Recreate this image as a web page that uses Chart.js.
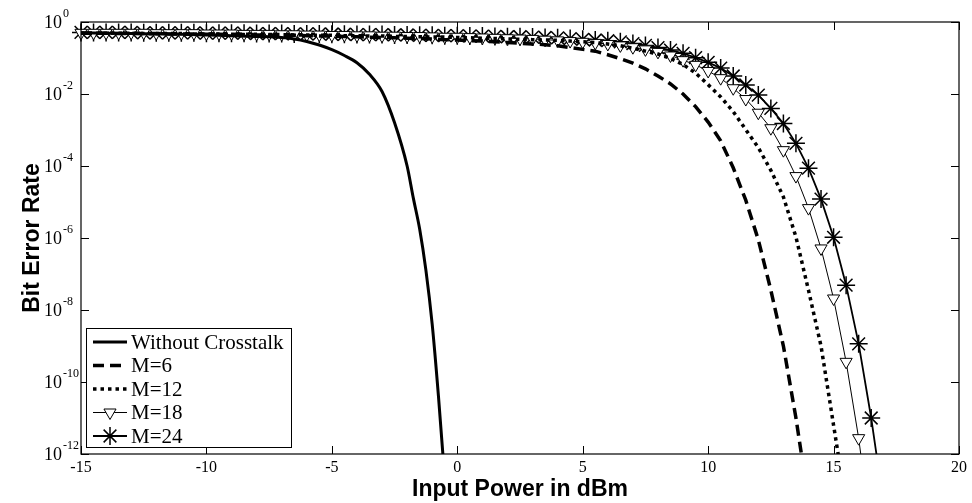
<!DOCTYPE html>
<html>
<head>
<meta charset="utf-8">
<script src="https://cdn.jsdelivr.net/npm/chart.js@4.4.1/dist/chart.umd.min.js"></script>
<style>
  body { margin: 0; background: #fff; }
  #wrap { width: 972px; height: 503px; }
</style>
</head>
<body>
<div id="wrap"><canvas id="ber"></canvas></div>
<script>
// input power grid (dBm) used by the M curves
const powerDbm = [-15, -14.5, -14, -13.5, -13, -12.5, -12, -11.5, -11, -10.5, -10, -9.5, -9, -8.5, -8, -7.5,
  -7, -6.5, -6, -5.5, -5, -4.5, -4, -3.5, -3, -2.5, -2, -1.5, -1, -0.5, 0, 0.5, 1, 1.5, 2, 2.5, 3, 3.5,
  4, 4.5, 5, 5.5, 6, 6.5, 7, 7.5, 8, 8.5, 9, 9.5, 10, 10.5, 11, 11.5, 12, 12.5, 13, 13.5, 14, 14.5,
  15, 15.5, 16, 16.5, 17];

// log10(BER)
const logM6 = [-0.31, -0.31, -0.31, -0.32, -0.32, -0.32, -0.32, -0.33, -0.33, -0.33, -0.34, -0.34, -0.35, -0.35, -0.36, -0.36,
  -0.37, -0.37, -0.38, -0.39, -0.39, -0.40, -0.41, -0.42, -0.43, -0.44, -0.45, -0.46, -0.47, -0.49, -0.50, -0.52, -0.53, -0.55, -0.57, -0.59, -0.61, -0.63,
  -0.66, -0.71, -0.76, -0.81, -0.91, -1.02, -1.14, -1.30, -1.50, -1.72, -2.00, -2.35, -2.78, -3.30, -4.05, -4.95, -6.05, -7.45, -9.00, -11.0, -13.3, null,
  null, null, null, null, null];
const logM12 = [-0.31, -0.31, -0.31, -0.31, -0.31, -0.32, -0.32, -0.32, -0.32, -0.33, -0.33, -0.33, -0.34, -0.34, -0.34, -0.35,
  -0.35, -0.36, -0.36, -0.37, -0.37, -0.38, -0.38, -0.39, -0.39, -0.40, -0.40, -0.41, -0.42, -0.42, -0.43, -0.44, -0.45, -0.46, -0.47, -0.48, -0.49, -0.50,
  -0.51, -0.53, -0.55, -0.57, -0.61, -0.66, -0.73, -0.81, -0.89, -1.01, -1.18, -1.42, -1.74, -2.08, -2.49, -2.99, -3.49, -4.12, -4.86, -5.97, -7.45, -9.0,
  -11.2, -13.4, null, null, null];
const logM18 = [-0.30, -0.30, -0.30, -0.30, -0.30, -0.30, -0.31, -0.31, -0.31, -0.31, -0.32, -0.32, -0.32, -0.33, -0.33, -0.33,
  -0.34, -0.34, -0.35, -0.35, -0.36, -0.36, -0.37, -0.37, -0.38, -0.38, -0.39, -0.39, -0.40, -0.41, -0.41, -0.42, -0.43, -0.44, -0.45, -0.46, -0.47, -0.49,
  -0.51, -0.53, -0.55, -0.58, -0.61, -0.65, -0.70, -0.76, -0.83, -0.93, -1.06, -1.19, -1.36, -1.56, -1.84, -2.14, -2.52, -2.95, -3.56, -4.28, -5.17, -6.29,
  -7.68, -9.44, -11.56, -14.2, null];
const logM24 = [-0.29, -0.29, -0.29, -0.29, -0.29, -0.30, -0.30, -0.30, -0.30, -0.30, -0.31, -0.31, -0.31, -0.31, -0.32, -0.32,
  -0.32, -0.33, -0.33, -0.33, -0.34, -0.34, -0.35, -0.35, -0.35, -0.36, -0.36, -0.37, -0.37, -0.38, -0.38, -0.39, -0.39, -0.40, -0.41, -0.41, -0.42, -0.43,
  -0.44, -0.46, -0.48, -0.50, -0.52, -0.55, -0.60, -0.65, -0.71, -0.78, -0.87, -0.99, -1.12, -1.28, -1.50, -1.75, -2.03, -2.40, -2.82, -3.37, -4.06, -4.92,
  -5.98, -7.31, -8.94, -11.0, -13.4];

// the no-crosstalk curve has its own points, denser where it drops
const powerWithout = [-15, -14, -13, -12, -11, -10, -9, -8, -7, -6.5, -6, -5.5, -5, -4.5, -4, -3.5, -3, -2.5, -2,
  -1.75, -1.5, -1.25, -1, -0.75, -0.5];
const logWithout = [-0.30, -0.31, -0.32, -0.33, -0.34, -0.36, -0.38, -0.40, -0.43, -0.47, -0.54, -0.64, -0.77, -0.93, -1.13,
  -1.45, -1.93, -2.8, -4.0, -4.9, -5.75, -6.9, -8.4, -10.4, -12.7];

const seriesNames = ['Without Crosstalk', 'M=6', 'M=12', 'M=18', 'M=24'];
const xTicks = [-15, -10, -5, 0, 5, 10, 15, 20];
const xTickLabels = ['-15', '-10', '-5', '0', '5', '10', '15', '20'];
const yTickExps = [0, -2, -4, -6, -8, -10, -12];
const yTickLabels = ['0', '-2', '-4', '-6', '-8', '-10', '-12'];

const toPoints = (xs, logs) => xs.map((x, i) => ({ x: x, y: logs[i] === null ? null : Math.pow(10, logs[i]) }));

const SERIF = '"Liberation Serif", "Times New Roman", serif';
const SANS = '"Liberation Sans", Arial, sans-serif';

function drawTri(ctx, x, y, r) {
  ctx.beginPath();
  ctx.moveTo(x, y + r);
  ctx.lineTo(x + r * 0.866, y - r / 2);
  ctx.lineTo(x - r * 0.866, y - r / 2);
  ctx.closePath();
  ctx.fillStyle = '#fff';
  ctx.fill();
  ctx.stroke();
}

function drawStar(ctx, x, y, r) {
  const d = r * 0.707;
  ctx.beginPath();
  ctx.moveTo(x - r, y); ctx.lineTo(x + r, y);
  ctx.moveTo(x, y - r); ctx.lineTo(x, y + r);
  ctx.moveTo(x - d, y - d); ctx.lineTo(x + d, y + d);
  ctx.moveTo(x - d, y + d); ctx.lineTo(x + d, y - d);
  ctx.stroke();
}

// box, inward ticks, tick labels, axis titles and the legend
const framePlugin = {
  id: 'frame',
  afterDatasetsDraw(chart) {
    const { ctx, chartArea: a, scales } = chart;
    const xs = scales.x, ys = scales.y;
    ctx.save();
    ctx.strokeStyle = '#000';
    ctx.fillStyle = '#000';
    ctx.lineWidth = 1.2;
    ctx.strokeRect(a.left, a.top, a.right - a.left, a.bottom - a.top);

    ctx.lineWidth = 1;
    ctx.beginPath();
    xTicks.forEach(v => {
      const px = Math.round(xs.getPixelForValue(v)) + 0.5;
      ctx.moveTo(px, a.bottom); ctx.lineTo(px, a.bottom - 8);
      ctx.moveTo(px, a.top); ctx.lineTo(px, a.top + 8);
    });
    yTickExps.forEach(e => {
      const py = Math.round(ys.getPixelForValue(Math.pow(10, e))) + 0.5;
      ctx.moveTo(a.left, py); ctx.lineTo(a.left + 8, py);
      ctx.moveTo(a.right, py); ctx.lineTo(a.right - 8, py);
    });
    ctx.stroke();

    // x tick labels
    ctx.font = '16px ' + SERIF;
    ctx.textAlign = 'center';
    ctx.textBaseline = 'top';
    xTicks.forEach((v, i) => ctx.fillText(xTickLabels[i], xs.getPixelForValue(v), a.bottom + 6));

    // y tick labels 10^e
    yTickExps.forEach((e, i) => {
      const py = ys.getPixelForValue(Math.pow(10, e));
      ctx.font = '18px ' + SERIF;
      ctx.textAlign = 'right';
      ctx.textBaseline = 'middle';
      ctx.fillText('10', 62, py + 1);
      ctx.font = '12px ' + SERIF;
      ctx.textAlign = 'left';
      ctx.fillText(yTickLabels[i], 63, py - 8);
    });

    // axis titles
    ctx.font = 'bold 23px ' + SANS;
    ctx.textAlign = 'center';
    ctx.textBaseline = 'middle';
    ctx.fillText('Input Power in dBm', (a.left + a.right) / 2, 490);
    ctx.save();
    ctx.translate(33, (a.top + a.bottom) / 2);
    ctx.rotate(-Math.PI / 2);
    ctx.fillText('Bit Error Rate', 0, 0);
    ctx.restore();

    // legend
    const lx = 86, ly = 328, lw = 205, lh = 119;
    ctx.fillStyle = '#fff';
    ctx.fillRect(lx, ly, lw, lh);
    ctx.strokeStyle = '#000';
    ctx.lineWidth = 1;
    ctx.strokeRect(lx + 0.5, ly + 0.5, lw, lh);
    chart.data.datasets.forEach((ds, i) => {
      const yy = ly + 14 + i * 23.5;
      ctx.save();
      ctx.strokeStyle = '#000';
      ctx.lineWidth = ds.borderWidth;
      ctx.setLineDash(ds.borderDash || []);
      ctx.beginPath();
      ctx.moveTo(93, yy); ctx.lineTo(127, yy);
      ctx.stroke();
      ctx.setLineDash([]);
      if (ds.pointStyle === 'triangle') { ctx.lineWidth = 1; drawTri(ctx, 110, yy, 7); }
      if (ds.pointStyle === 'star') { ctx.lineWidth = 1.5; drawStar(ctx, 110, yy, 9); }
      ctx.restore();
      ctx.fillStyle = '#000';
      ctx.font = '21px ' + SERIF;
      ctx.textAlign = 'left';
      ctx.textBaseline = 'middle';
      ctx.fillText(ds.label, 131, yy + 1);
    });
    ctx.restore();
  }
};

const clipArea = { left: 12, top: 12, right: 0, bottom: 0 };

new Chart(document.getElementById('ber').getContext('2d'), {
  type: 'line',
  data: {
    datasets: [
      {
        label: seriesNames[0], data: toPoints(powerWithout, logWithout),
        borderColor: '#000', borderWidth: 3, pointRadius: 0,
        cubicInterpolationMode: 'monotone', clip: clipArea
      },
      {
        label: seriesNames[1], data: toPoints(powerDbm, logM6),
        borderColor: '#000', borderWidth: 3.5, borderDash: [11, 6], pointRadius: 0,
        borderCapStyle: 'butt', clip: clipArea
      },
      {
        label: seriesNames[2], data: toPoints(powerDbm, logM12),
        borderColor: '#000', borderWidth: 3.5, borderDash: [3.5, 4], pointRadius: 0,
        borderCapStyle: 'butt', clip: clipArea
      },
      {
        label: seriesNames[3], data: toPoints(powerDbm, logM18),
        borderColor: '#000', borderWidth: 1, pointStyle: 'triangle', pointRotation: 180,
        pointRadius: 7, pointBorderWidth: 1, pointBorderColor: '#000', pointBackgroundColor: '#fff',
        clip: clipArea
      },
      {
        label: seriesNames[4], data: toPoints(powerDbm, logM24),
        borderColor: '#000', borderWidth: 1.8, pointStyle: 'star',
        pointRadius: 9, pointBorderWidth: 1.5, pointBorderColor: '#000', pointBackgroundColor: '#000',
        clip: clipArea
      }
    ]
  },
  options: {
    responsive: true,
    maintainAspectRatio: false,
    animation: false,
    events: [],
    layout: { padding: { left: 81, top: 22, right: 13, bottom: 49 } },
    elements: { line: { tension: 0 } },
    scales: {
      x: { type: 'linear', min: -15, max: 20, display: false },
      y: { type: 'logarithmic', min: 1e-12, max: 1, display: false }
    },
    plugins: { legend: { display: false }, tooltip: { enabled: false } }
  },
  plugins: [framePlugin]
});
</script>
</body>
</html>
